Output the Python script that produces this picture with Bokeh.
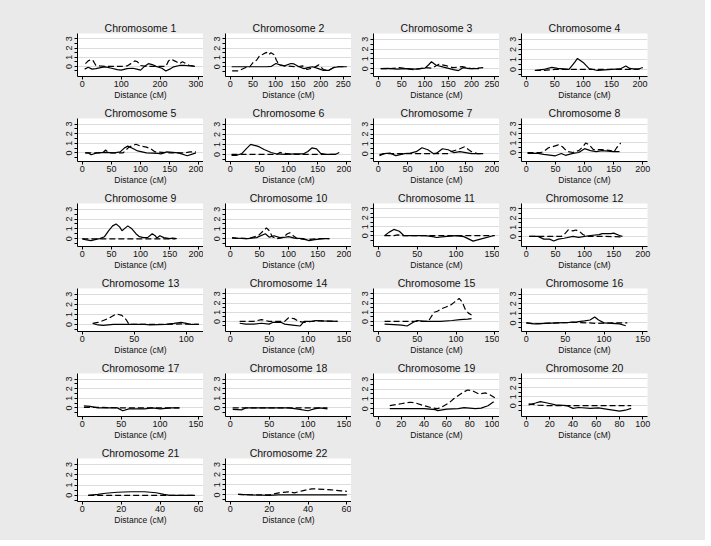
from bokeh.plotting import figure
from bokeh.layouts import gridplot
from bokeh.models import FixedTicker
from bokeh.embed import file_html
from bokeh.resources import INLINE

GREY = "#eaeaea"
FONT = "Liberation Sans"

# ---- data: (distance cM, value) for the solid and dashed curve of each chromosome ----
c1_sx = [6, 15, 25, 35, 50, 60, 75, 90, 100, 115, 130, 140, 150, 160, 170, 180, 190, 205, 215, 225, 235, 250, 265, 280, 290]
c1_sy = [-0.3, -0.1, -0.3, -0.25, -0.1, -0.05, -0.2, -0.35, -0.4, -0.25, -0.2, -0.3, -0.4, 0.0, 0.3, 0.2, 0.0, -0.2, -0.5, -0.3, -0.05, 0.1, 0.1, 0.05, 0.0]
c1_dx = [8, 15, 22, 28, 35, 45, 60, 80, 100, 115, 125, 135, 142, 150, 165, 180, 200, 215, 222, 228, 240, 250, 258, 265, 275, 290]
c1_dy = [0.3, 0.6, 0.75, 0.6, 0.1, 0.05, 0.0, 0.0, 0.0, 0.05, 0.3, 0.6, 0.5, 0.1, 0.0, 0.0, 0.0, 0.0, 0.6, 0.8, 0.55, 0.3, 0.5, 0.35, 0.1, 0.0]

c2_sx = [3, 20, 40, 60, 80, 91, 101, 110, 120, 134, 141, 152, 163, 172, 182, 195, 206, 218, 228, 240, 258]
c2_sy = [0, 0, 0, 0, 0, 0.05, 0.35, 0.2, 0.1, 0.35, 0.3, 0.0, -0.2, -0.1, 0.0, -0.2, -0.4, -0.4, -0.1, 0.0, 0.0]
c2_dx = [4, 18, 33, 43, 51, 58, 65, 72, 80, 85, 90, 97, 102, 108, 120, 135, 149, 160, 170, 185, 196, 206, 217, 228, 235, 254]
c2_dy = [-0.45, -0.45, -0.1, 0.0, 0.5, 0.7, 1.2, 1.35, 1.55, 1.3, 1.5, 1.3, 0.7, 0.2, 0.1, 0.05, 0.0, 0.1, -0.3, -0.1, 0.2, -0.3, -0.4, -0.1, 0.0, 0.0]

c3_sx = [5, 20, 40, 60, 80, 100, 108, 114, 124, 140, 161, 172, 182, 195, 216]
c3_sy = [0.0, 0.02, -0.05, 0.0, -0.05, 0.05, 0.4, 0.7, 0.35, 0.15, -0.1, -0.2, 0.1, 0.0, 0.0]
c3_dx = [5, 25, 45, 60, 75, 90, 100, 115, 130, 145, 160, 180, 200, 225]
c3_dy = [0.0, 0.0, 0.1, 0.0, -0.1, 0.0, 0.1, 0.05, 0.45, 0.3, 0.1, 0.2, 0.0, 0.1]

c4_sx = [15, 30, 45, 55, 75, 85, 90, 95, 100, 105, 110, 125, 150, 165, 175, 182, 195, 205]
c4_sy = [-0.1, 0.0, 0.2, 0.1, 0.0, 0.7, 1.1, 0.9, 0.7, 0.4, 0.1, -0.1, 0.0, 0.05, 0.35, 0.1, 0.0, 0.2]
c4_dx = [15, 30, 50, 75, 100, 125, 150, 175, 200, 205]
c4_dy = [-0.1, -0.1, 0.0, 0.0, 0.0, 0.0, 0.0, 0.0, 0.05, 0.1]

c5_sx = [5, 10, 15, 25, 40, 55, 65, 72, 78, 85, 95, 110, 130, 135, 145, 165, 180, 190, 195]
c5_sy = [0, 0, -0.2, 0, 0.05, 0, 0.1, 0.5, 0.7, 0.5, 0.2, 0, -0.05, -0.1, 0.1, 0, -0.3, -0.1, 0]
c5_dx = [5, 20, 35, 40, 45, 60, 70, 80, 88, 92, 100, 110, 118, 125, 150, 175, 185, 195]
c5_dy = [0, 0, 0, 0.3, 0, 0, 0, 0.6, 0.8, 0.9, 0.7, 0.6, 0.4, 0.1, 0, 0, 0.1, 0.1]

c6_sx = [2, 10, 20, 28, 35, 45, 50, 58, 70, 80, 95, 110, 125, 133, 140, 148, 155, 165, 180, 187]
c6_sy = [-0.1, -0.1, 0.1, 0.6, 1.0, 0.85, 0.75, 0.5, 0.2, 0.05, 0, 0.05, 0.05, 0.3, 0.65, 0.55, 0.1, 0, 0, 0.2]
c6_dx = [2, 20, 40, 60, 80, 85, 95, 110, 130, 150, 170, 185]
c6_dy = [0, 0, 0, 0, 0, 0.2, 0.1, 0, 0, 0, 0, 0]

c7_sx = [2, 10, 20, 30, 45, 55, 65, 75, 85, 95, 100, 110, 120, 130, 140, 150, 160, 180]
c7_sy = [-0.1, 0, 0.05, -0.2, 0, 0.05, 0.2, 0.6, 0.4, 0, 0.05, 0.5, 0.4, 0.1, 0.2, 0.1, 0, 0]
c7_dx = [2, 10, 40, 80, 120, 125, 140, 148, 155, 160, 170, 180]
c7_dy = [-0.2, 0, 0, 0, 0, 0.2, 0.5, 0.7, 0.4, 0.2, 0, 0]

c8_sx = [2, 20, 30, 50, 60, 67, 80, 90, 100, 110, 120, 130, 150, 160]
c8_sy = [-0.1, -0.1, -0.2, -0.35, -0.1, -0.3, -0.1, 0, 0.4, 0.2, 0.1, 0.2, 0.1, 0.1]
c8_dx = [2, 25, 30, 38, 45, 55, 62, 70, 80, 90, 97, 102, 108, 115, 130, 145, 150, 155, 162]
c8_dy = [0, 0, 0.1, 0.5, 0.6, 0.8, 0.6, 0.1, 0, 0.2, 0.6, 1.0, 0.8, 0.3, 0.3, 0.2, 0, 0.5, 1.0]

c9_sx = [0, 5, 15, 25, 30, 38, 45, 52, 58, 64, 68, 74, 78, 85, 92, 98, 105, 112, 120, 125, 128, 133, 140, 150, 155, 162]
c9_sy = [0, -0.1, -0.2, -0.05, 0, 0.2, 0.8, 1.3, 1.5, 1.2, 0.8, 1.1, 1.3, 1.0, 0.5, 0.2, 0.1, 0.1, 0.5, 0.3, 0.05, 0.3, 0.1, 0, 0.05, 0]
c9_dx = [0, 40, 80, 120, 160]
c9_dy = [-0.02, -0.02, -0.02, -0.02, -0.02]

c10_sx = [3, 10, 30, 45, 60, 67, 75, 85, 95, 100, 110, 125, 135, 145, 160, 170]
c10_sy = [0.1, 0.05, 0, 0.1, 0.5, 0.15, 0.3, 0.1, 0.15, 0.2, 0.05, 0, -0.2, -0.1, 0, 0]
c10_dx = [3, 30, 48, 55, 62, 67, 72, 80, 90, 98, 102, 108, 115, 130, 150, 170]
c10_dy = [0.05, 0, 0.3, 0.7, 1.1, 0.8, 0.2, 0, 0.1, 0.5, 0.6, 0.3, 0, -0.1, 0, 0]

c11_sx = [8, 14, 20, 27, 33, 60, 70, 75, 85, 100, 110, 122, 135, 148]
c11_sy = [0, 0.4, 0.7, 0.5, 0, 0, -0.1, -0.2, -0.1, 0, -0.1, -0.6, -0.3, 0]
c11_dx = [8, 20, 25, 30, 60, 90, 120, 150]
c11_dy = [0, 0, 0.1, 0, 0, 0, 0, 0]

c12_sx = [5, 20, 30, 40, 47, 55, 65, 80, 90, 110, 125, 130, 145, 150, 160, 165]
c12_sy = [0, 0, -0.3, -0.3, -0.5, -0.3, -0.2, 0, -0.1, 0.1, 0.2, 0.3, 0.3, 0.35, 0.1, 0]
c12_dx = [5, 30, 60, 65, 72, 80, 85, 92, 97, 105, 135, 165]
c12_dy = [0, 0, 0, 0.2, 0.7, 0.6, 0.7, 0.5, 0.2, 0, 0, -0.05]

c13_sx = [10, 15, 20, 30, 40, 60, 65, 80, 88, 95, 100, 105, 112]
c13_sy = [0.1, -0.05, -0.1, 0, 0, 0, -0.05, 0, 0.1, 0.2, 0.1, 0, 0]
c13_dx = [10, 15, 18, 25, 30, 33, 38, 42, 45, 60, 80, 95, 112]
c13_dy = [0.1, 0.2, 0.3, 0.6, 0.9, 1.05, 0.9, 0.5, 0, 0, 0, 0.05, 0]

c14_sx = [12, 20, 30, 40, 50, 55, 65, 70, 80, 90, 95, 105, 110, 120, 138]
c14_sy = [-0.2, -0.3, -0.3, -0.2, -0.3, -0.1, -0.1, -0.3, -0.4, -0.5, 0, 0, 0.1, 0.05, 0]
c14_dx = [12, 30, 40, 50, 70, 75, 82, 88, 95, 110, 138]
c14_dy = [0, 0, 0.2, 0, 0, 0.4, 0.3, 0, -0.1, 0.05, 0]

c15_sx = [8, 20, 30, 37, 45, 50, 60, 80, 95, 105, 115, 120]
c15_sy = [-0.3, -0.35, -0.4, -0.5, -0.1, 0.1, 0, 0, 0.1, 0.2, 0.25, 0.3]
c15_dx = [8, 40, 60, 65, 68, 72, 76, 82, 88, 92, 98, 104, 108, 112, 116, 120]
c15_dy = [0, 0, 0, 0.1, 0.5, 1.0, 1.1, 1.4, 1.6, 1.7, 2.1, 2.5, 2.1, 1.3, 0.9, 0.7]

c16_sx = [0, 10, 25, 40, 55, 65, 75, 82, 88, 93, 100, 110, 120, 128]
c16_sy = [0, -0.1, -0.05, 0, 0.05, 0.1, 0.2, 0.3, 0.6, 0.3, 0, -0.05, -0.1, -0.3]
c16_dx = [0, 10, 40, 60, 80, 90, 110, 130]
c16_dy = [0, -0.1, 0, 0.05, 0, -0.05, 0, 0]

c17_sx = [2, 10, 20, 30, 45, 52, 60, 80, 90, 100, 115, 125]
c17_sy = [0.2, 0.15, 0, 0, 0, -0.3, -0.1, -0.1, 0, -0.1, 0, 0]
c17_dx = [2, 20, 50, 90, 125]
c17_dy = [0.05, 0.05, 0, 0, 0]

c18_sx = [3, 15, 20, 50, 75, 85, 100, 108, 115, 125]
c18_sy = [-0.15, -0.2, 0, 0, 0, -0.1, -0.3, -0.1, 0, -0.1]
c18_dx = [3, 40, 80, 125]
c18_dy = [0, 0, 0, 0]

c19_sx = [10, 25, 40, 50, 52, 60, 70, 75, 85, 90, 96, 101]
c19_sy = [0, 0, 0, -0.1, -0.2, -0.05, 0, 0.1, 0, 0.05, 0.3, 0.7]
c19_dx = [10, 20, 28, 32, 40, 48, 52, 56, 62, 66, 72, 78, 82, 88, 94, 98, 102]
c19_dy = [0.3, 0.5, 0.65, 0.6, 0.3, 0.05, 0, 0.2, 0.6, 1.0, 1.5, 1.9, 1.85, 1.5, 1.6, 1.4, 1.1]

c20_sx = [2, 8, 12, 18, 25, 35, 40, 45, 55, 62, 70, 80, 85, 90]
c20_sy = [0.1, 0.3, 0.45, 0.3, 0.1, 0, -0.3, -0.2, -0.3, -0.25, -0.4, -0.6, -0.5, -0.3]
c20_dx = [2, 10, 20, 50, 90]
c20_dy = [0.2, 0.05, 0, 0, 0]

c21_sx = [3, 8, 12, 18, 25, 32, 38, 42, 45, 58]
c21_sy = [0, 0.1, 0.2, 0.3, 0.35, 0.35, 0.25, 0.1, 0, 0]
c21_dx = [3, 30, 58]
c21_dy = [0, 0, 0]

c22_sx = [4, 10, 20, 25, 60]
c22_sy = [0.05, 0, -0.05, 0, 0]
c22_dx = [4, 15, 20, 25, 30, 33, 37, 42, 48, 52, 57, 60]
c22_dy = [0.05, 0, 0, 0.2, 0.3, 0.2, 0.4, 0.6, 0.55, 0.5, 0.4, 0.35]

solid_x = [c1_sx, c2_sx, c3_sx, c4_sx, c5_sx, c6_sx, c7_sx, c8_sx, c9_sx, c10_sx, c11_sx,
           c12_sx, c13_sx, c14_sx, c15_sx, c16_sx, c17_sx, c18_sx, c19_sx, c20_sx, c21_sx, c22_sx]
solid_y = [c1_sy, c2_sy, c3_sy, c4_sy, c5_sy, c6_sy, c7_sy, c8_sy, c9_sy, c10_sy, c11_sy,
           c12_sy, c13_sy, c14_sy, c15_sy, c16_sy, c17_sy, c18_sy, c19_sy, c20_sy, c21_sy, c22_sy]
dash_x = [c1_dx, c2_dx, c3_dx, c4_dx, c5_dx, c6_dx, c7_dx, c8_dx, c9_dx, c10_dx, c11_dx,
          c12_dx, c13_dx, c14_dx, c15_dx, c16_dx, c17_dx, c18_dx, c19_dx, c20_dx, c21_dx, c22_dx]
dash_y = [c1_dy, c2_dy, c3_dy, c4_dy, c5_dy, c6_dy, c7_dy, c8_dy, c9_dy, c10_dy, c11_dy,
          c12_dy, c13_dy, c14_dy, c15_dy, c16_dy, c17_dy, c18_dy, c19_dy, c20_dy, c21_dy, c22_dy]

# x tick labels: maximum tick and step for each chromosome
xtick_max = [300, 250, 250, 200, 200, 200, 200, 200, 200, 200, 150,
             200, 100, 150, 150, 150, 150, 150, 100, 100, 60, 60]
xtick_step = [100, 50, 50, 50, 50, 50, 50, 50, 50, 50, 50,
              50, 50, 50, 50, 50, 50, 50, 20, 20, 20, 20]
ytick_major = [0, 1, 2, 3]
ytick_minor = [-0.5, 0.5, 1.5, 2.5]

NCOL, NROW = 4, 6
FW, FH = 126, 43


def borders(r, c):
    left = 77 if c == 0 else 22
    right = 58 if c == NCOL - 1 else 0
    top = 33 if r == 0 else 16
    bottom = 39 if r == NROW - 1 else 26
    return dict(min_border_left=left, min_border_right=right,
                min_border_top=top, min_border_bottom=bottom)


figs = []
for k in range(NCOL * NROW):
    r, c = divmod(k, NCOL)
    b = borders(r, c)
    if k >= 22:
        p = figure(frame_width=FW, frame_height=FH, output_backend="svg", toolbar_location=None,
                   background_fill_color=GREY, border_fill_color=GREY,
                   outline_line_color=None, **b)
        p.axis.visible = False
        p.grid.visible = False
        figs.append(p)
        continue
    i = k
    sx, sy, dx, dy = solid_x[i], solid_y[i], dash_x[i], dash_y[i]
    right = max(xtick_max[i], max(sx + dx)) * 1.04
    left = -0.04 * right
    ymin = min(sy + dy) - 0.6
    p = figure(frame_width=FW, frame_height=FH, x_range=(left, right), y_range=(ymin, 3.58),
               output_backend="svg", toolbar_location=None,
               background_fill_color="white", border_fill_color=GREY,
               outline_line_color=None, **b)
    p.title.text = f"Chromosome {i + 1}"
    p.title.align = "center"
    p.title.text_font = FONT
    p.title.text_font_size = "10.5px"
    p.title.text_font_style = "normal"
    p.title.text_color = "#111111"
    try:
        p.title.standoff = 0
    except Exception:
        pass
    p.title.offset = 0

    p.line(sx, sy, line_color="black", line_width=1.2)
    p.line(dx, dy, line_color="black", line_width=1.2, line_dash="6 3")

    p.xaxis.ticker = FixedTicker(ticks=list(range(0, xtick_max[i] + 1, xtick_step[i])))
    p.xaxis.axis_label = "Distance (cM)"
    p.xaxis.axis_label_text_font = FONT
    p.xaxis.axis_label_text_font_size = "8.5px"
    p.xaxis.axis_label_text_font_style = "normal"
    p.xaxis.axis_label_standoff = 0
    p.xaxis.major_label_standoff = 1
    p.xaxis.major_label_text_font_size = "9px"

    p.yaxis.ticker = FixedTicker(ticks=ytick_major, minor_ticks=ytick_minor)
    p.yaxis.major_label_orientation = "vertical"
    p.yaxis.major_label_standoff = 2
    p.yaxis.major_label_text_font_size = "9px"
    p.yaxis.minor_tick_out = 3
    p.yaxis.minor_tick_in = 0

    for ax in (p.xaxis, p.yaxis):
        ax.major_label_text_font = FONT
        ax.major_label_text_color = "#111111"
        ax.axis_label_text_color = "#111111"
        ax.axis_line_color = "black"
        ax.major_tick_line_color = "black"
        ax.minor_tick_line_color = "black"
        ax.major_tick_out = 3
        ax.major_tick_in = 0
    p.xaxis.minor_tick_line_color = None

    p.xgrid.visible = False
    p.ygrid.ticker = FixedTicker(ticks=ytick_major)
    p.ygrid.grid_line_color = "#dcdcdc"
    p.ygrid.grid_line_width = 1
    figs.append(p)

grid = gridplot(figs, ncols=NCOL, toolbar_location=None)
grid.styles = {"background-color": GREY}

open("out.html", "w").write(file_html(grid, INLINE))
